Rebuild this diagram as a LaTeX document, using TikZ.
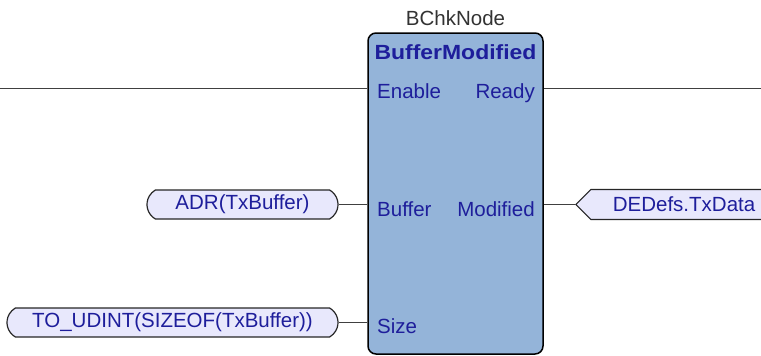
\documentclass[tikz,border=0pt]{standalone}
\usepackage{fontspec}
\setmainfont{Liberation Sans}[BoldFeatures={FakeStretch=1.12}]
\usetikzlibrary{shapes.misc,shapes.symbols}
\definecolor{fbblue}{RGB}{148,180,217}
\definecolor{portblue}{RGB}{30,30,155}
\definecolor{varfill}{RGB}{232,232,252}

\begin{document}
\begin{tikzpicture}
[every node/.style={inner sep=0pt, font=\fontsize{20.5}{24}\selectfont},
 portlbl/.style={text=portblue},
 invar/.style={rounded rectangle, rounded rectangle arc length=120, minimum height=29pt, fill=varfill, draw=black!85, line width=1.2pt, text=portblue},
 outvar/.style={signal, signal to=west, signal pointer angle=90, inner xsep=22pt, minimum height=30pt, fill=varfill, draw=black!85, line width=1.2pt, text=portblue},
 wire/.style={line width=1pt, draw=black!75}]
\useasboundingbox (0pt,0pt) rectangle (761pt,-356pt);
\node (inst) [text=black!80] at (455.5pt, -18.5pt) {BChkNode};
\node (fb) [rectangle, rounded corners=8pt, minimum width=175pt, minimum height=321pt, fill=fbblue, draw=black, line width=1.5pt] at (455.5pt, -193.5pt) {};
\node (fbname) [text=portblue, anchor=base] at (455.5pt, -59pt) {\bfseries BufferModified};
\node (en) [portlbl, anchor=base west] at (377pt, -98pt) {Enable};
\node (rdy) [portlbl, anchor=base east] at (535pt, -98pt) {Ready};
\node (buf) [portlbl, anchor=base west] at (377pt, -216pt) {Buffer};
\node (mod) [portlbl, anchor=base east] at (535pt, -216pt) {Modified};
\node (sz) [portlbl, anchor=base west] at (377pt, -333pt) {Size};
\node (adr) [invar, minimum width=191pt] at (242.5pt, -204.5pt) {ADR(TxBuffer)};
\node (sizeof) [invar, minimum width=331pt] at (172.5pt, -322.5pt) {TO\_UDINT(SIZEOF(TxBuffer))};
\node (txdata) [outvar, anchor=west] at (575pt, -204.5pt) {DEDefs.TxData};
\coordinate (lrail) at (0pt, -88pt);
\coordinate (rrail) at (761pt, -88pt);
\draw [wire] (lrail) -- (lrail -| fb.west);
\draw [wire] (fb.east |- rrail) -- (rrail);
\draw [wire] (adr.east) -- (adr.east -| fb.west);
\draw [wire] (sizeof.east) -- (sizeof.east -| fb.west);
\draw [wire] (fb.east |- txdata.west) -- (txdata.west);
\end{tikzpicture}
\end{document}
